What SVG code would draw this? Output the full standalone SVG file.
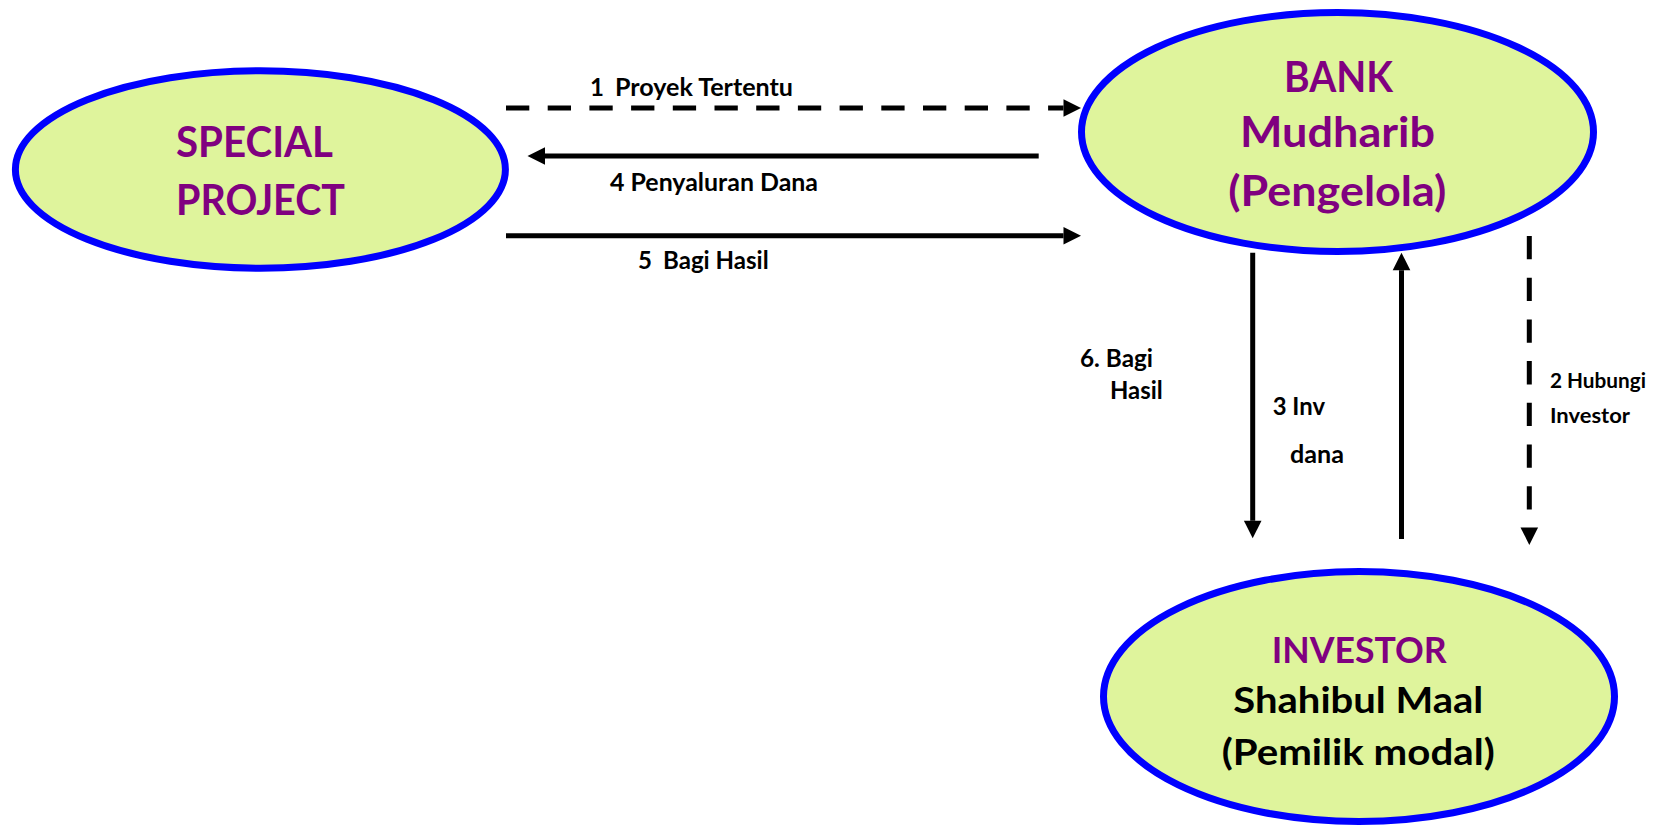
<svg xmlns="http://www.w3.org/2000/svg" width="1668" height="828" viewBox="0 0 1668 828">
  <style>
    .node { fill: #dff49c; stroke: #0000ff; stroke-width: 7; }
    .title { font-family: Lato, "Open Sans", "Liberation Sans", sans-serif; font-weight: bold; fill: #800080; }
    .sub { font-family: Lato, "Open Sans", "Liberation Sans", sans-serif; font-weight: bold; fill: #000000; }
    .label { font-family: Lato, "Open Sans", "Liberation Sans", sans-serif; font-weight: bold; font-size: 24px; fill: #000000; }
    .small { font-size: 21px; }
    .flow { stroke: #000000; stroke-width: 5; fill: none; marker-end: url(#head); }
    .dashed { stroke-dasharray: 23.3 18.4; }
  </style>
  <defs>
    <marker id="head" markerUnits="userSpaceOnUse" markerWidth="20" markerHeight="20" refX="0" refY="8.8" orient="auto" overflow="visible">
      <path d="M0,0 L17.5,8.8 L0,17.6 Z" fill="#000000"/>
    </marker>
  </defs>

  <rect width="1668" height="828" fill="#ffffff"/>

  <!-- Nodes -->
  <g id="special-project">
    <ellipse class="node" cx="260.4" cy="169.5" rx="245" ry="98.7"/>
    <text class="title" font-size="42" x="176" y="157.3" textLength="157" lengthAdjust="spacingAndGlyphs">SPECIAL</text>
    <text class="title" font-size="42" x="176" y="215" textLength="169" lengthAdjust="spacingAndGlyphs">PROJECT</text>
  </g>

  <g id="bank">
    <ellipse class="node" cx="1337.5" cy="132" rx="256" ry="119.5"/>
    <text class="title" font-size="41.5" x="1284" y="91.7" textLength="109" lengthAdjust="spacingAndGlyphs">BANK</text>
    <text class="title" font-size="41.5" x="1240" y="147.3" textLength="195" lengthAdjust="spacingAndGlyphs">Mudharib</text>
    <text class="title" font-size="41.5" x="1228.3" y="206" textLength="218" lengthAdjust="spacingAndGlyphs">(Pengelola)</text>
  </g>

  <g id="investor">
    <ellipse class="node" cx="1359" cy="696.5" rx="255.5" ry="125"/>
    <text class="title" font-size="37" x="1271.7" y="662.7" textLength="175" lengthAdjust="spacingAndGlyphs">INVESTOR</text>
    <text class="sub" font-size="37" x="1233.3" y="713.3" textLength="250" lengthAdjust="spacingAndGlyphs">Shahibul Maal</text>
    <text class="sub" font-size="37" x="1221.7" y="765" textLength="273" lengthAdjust="spacingAndGlyphs">(Pemilik modal)</text>
  </g>

  <!-- Connectors -->
  <g id="connectors">
    <g id="c1-proyek-tertentu">
      <line class="flow dashed" x1="506" y1="108" x2="1063.5" y2="108"/>
      <text class="label" y="95.5"><tspan x="590">1</tspan><tspan x="615" textLength="178" lengthAdjust="spacingAndGlyphs">Proyek Tertentu</tspan></text>
    </g>
    <g id="c4-penyaluran-dana">
      <line class="flow" x1="1038.7" y1="156" x2="545" y2="156"/>
      <text class="label" x="610" y="191" textLength="208" lengthAdjust="spacingAndGlyphs">4 Penyaluran Dana</text>
    </g>
    <g id="c5-bagi-hasil">
      <line class="flow" x1="506" y1="235.7" x2="1063.5" y2="235.7"/>
      <text class="label" y="269"><tspan x="638">5</tspan><tspan x="663" textLength="105.7" lengthAdjust="spacingAndGlyphs">Bagi Hasil</tspan></text>
    </g>
    <g id="c6-bagi-hasil-investor">
      <line class="flow" x1="1252.7" y1="252.7" x2="1252.7" y2="520.8"/>
      <text class="label" x="1080" y="367.3" textLength="73" lengthAdjust="spacingAndGlyphs">6. Bagi</text>
      <text class="label" x="1110" y="399" textLength="52.7" lengthAdjust="spacingAndGlyphs">Hasil</text>
    </g>
    <g id="c3-inv-dana">
      <line class="flow" x1="1401.5" y1="539" x2="1401.5" y2="270.2"/>
      <text class="label" x="1272.7" y="415" textLength="52.3" lengthAdjust="spacingAndGlyphs">3 Inv</text>
      <text class="label" x="1290" y="463.3" textLength="54" lengthAdjust="spacingAndGlyphs">dana</text>
    </g>
    <g id="c2-hubungi-investor">
      <line class="flow dashed" x1="1529.3" y1="236" x2="1529.3" y2="527.4"/>
      <text class="label small" x="1550" y="388.3" textLength="96" lengthAdjust="spacingAndGlyphs">2 Hubungi</text>
      <text class="label small" x="1550" y="423.3" textLength="80" lengthAdjust="spacingAndGlyphs">Investor</text>
    </g>
  </g>
</svg>
